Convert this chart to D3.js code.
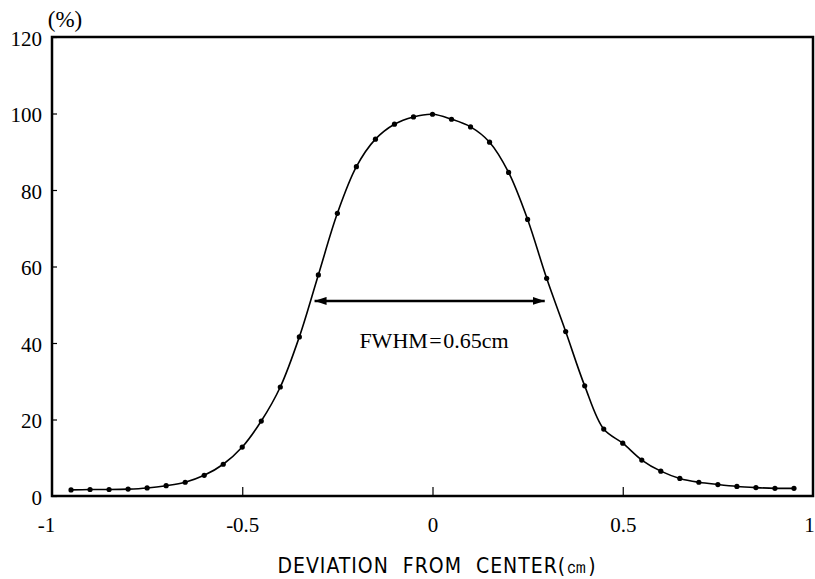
<!DOCTYPE html>
<html>
<head>
<meta charset="utf-8">
<script src="https://cdn.jsdelivr.net/npm/d3@7"></script>
<style>
  body { margin: 0; background: #fff; }
  svg { display: block; }
</style>
</head>
<body>
<div class="container"></div>
<script>
// measured points, deviation (cm) vs relative response (%)
const xValues = [-0.95, -0.9, -0.85, -0.8, -0.75, -0.7, -0.65, -0.6, -0.55, -0.5,
                 -0.45, -0.4, -0.35, -0.3, -0.25, -0.2, -0.15, -0.1, -0.05, 0,
                 0.05, 0.1, 0.15, 0.2, 0.25, 0.3, 0.35, 0.4, 0.45, 0.5,
                 0.55, 0.6, 0.65, 0.7, 0.75, 0.8, 0.85, 0.9, 0.95];
const yValues = [1.6, 1.7, 1.7, 1.8, 2.1, 2.7, 3.6, 5.4, 8.3, 12.8,
                 19.6, 28.5, 41.6, 57.8, 73.9, 86.1, 93.3, 97.2, 99.1, 99.8,
                 98.5, 96.5, 92.5, 84.6, 72.3, 56.9, 43.0, 28.8, 17.5, 13.8,
                 9.4, 6.5, 4.6, 3.6, 3.0, 2.5, 2.2, 2.0, 2.0];
const xTicks = [-1, -0.5, 0, 0.5, 1];
const yTicks = [0, 20, 40, 60, 80, 100, 120];
const arrowX = [-0.31, 0.295];   // FWHM arrow ends
const arrowY = 51;

const dataSet = xValues.map((x, i) => [x, yValues[i]]);

const w = 815;
const h = 579;
const padL = 52, padR = 813, padT = 37, padB = 496;

const xScale = d3.scaleLinear().domain([-1, 1]).range([padL, padR]);
const yScale = d3.scaleLinear().domain([0, 120]).range([padB, padT]);

const svg = d3.select(".container")
  .append("svg")
  .attr("width", w)
  .attr("height", h);

const serif = "'Liberation Serif', 'Times New Roman', serif";

// y axis, ticks pointing inward
const yAxis = d3.axisLeft(yScale)
  .tickValues(yTicks)
  .tickSizeInner(-5)
  .tickSizeOuter(0)
  .tickPadding(10);

svg.append("g")
  .attr("transform", "translate(" + padL + ",0)")
  .call(yAxis)
  .call(g => g.select(".domain").remove())
  .call(g => g.selectAll(".tick line").attr("stroke", "#000").attr("stroke-width", 1.2))
  .call(g => g.selectAll(".tick text")
    .attr("dy", "0.4em")
    .style("font-family", serif)
    .style("font-size", "21px")
    .attr("fill", "#000"));

// x axis
const xAxis = d3.axisBottom(xScale)
  .tickValues(xTicks)
  .tickFormat(d => String(d))
  .tickSizeInner(-9)
  .tickSizeOuter(0)
  .tickPadding(21);

svg.append("g")
  .attr("transform", "translate(0," + padB + ")")
  .call(xAxis)
  .call(g => g.select(".domain").remove())
  .call(g => g.selectAll(".tick line").attr("stroke", "#000").attr("stroke-width", 1.2))
  .call(g => g.selectAll(".tick").filter(d => d === -1 || d === 1).select("line").remove())
  .call(g => g.selectAll(".tick text")
    .style("font-family", serif)
    .style("font-size", "21px")
    .attr("fill", "#000"))
  .call(g => g.selectAll(".tick text").filter(d => d === -1).attr("dx", -6))
  .call(g => g.selectAll(".tick text").filter(d => d === 1).attr("dx", -4));

// frame
svg.append("rect")
  .attr("x", padL)
  .attr("y", padT)
  .attr("width", padR - padL)
  .attr("height", padB - padT)
  .attr("fill", "none")
  .attr("stroke", "#000")
  .attr("stroke-width", 2.5);

// unit label
svg.append("text")
  .attr("x", 65)
  .attr("y", 27)
  .attr("text-anchor", "middle")
  .style("font-family", serif)
  .style("font-size", "23px")
  .text("(%)");

// x axis title
svg.append("text")
  .attr("x", 437)
  .attr("y", 573)
  .attr("text-anchor", "middle")
  .style("font-family", "'DejaVu Sans Condensed', 'DejaVu Sans', sans-serif")
  .style("font-stretch", "condensed")
  .style("font-size", "21px")
  .style("letter-spacing", "1px")
  .style("word-spacing", "7px")
  .text("DEVIATION FROM CENTER(㎝)");

// curve through points
const line = d3.line()
  .x(d => xScale(d[0]))
  .y(d => yScale(d[1]))
  .curve(d3.curveCatmullRom.alpha(0.5));

svg.append("path")
  .datum(dataSet)
  .attr("d", line)
  .attr("fill", "none")
  .attr("stroke", "#000")
  .attr("stroke-width", 1.6);

svg.selectAll("circle")
  .data(dataSet)
  .enter()
  .append("circle")
  .attr("cx", d => xScale(d[0]))
  .attr("cy", d => yScale(d[1]))
  .attr("r", 2.6)
  .attr("fill", "#000");

// FWHM arrow
svg.append("defs").append("marker")
  .attr("id", "head")
  .attr("viewBox", "0 0 12 8")
  .attr("refX", 12)
  .attr("refY", 4)
  .attr("markerWidth", 12)
  .attr("markerHeight", 8)
  .attr("markerUnits", "userSpaceOnUse")
  .attr("orient", "auto-start-reverse")
  .append("path")
  .attr("d", "M0,0 L12,4 L0,8 Z")
  .attr("fill", "#000");

svg.append("line")
  .attr("x1", xScale(arrowX[0]))
  .attr("x2", xScale(arrowX[1]))
  .attr("y1", yScale(arrowY))
  .attr("y2", yScale(arrowY))
  .attr("stroke", "#000")
  .attr("stroke-width", 2.5)
  .attr("marker-start", "url(#head)")
  .attr("marker-end", "url(#head)");

svg.append("text")
  .attr("x", 434)
  .attr("y", 348)
  .attr("text-anchor", "middle")
  .style("font-family", serif)
  .style("font-size", "22px")
  .style("word-spacing", "-4px")
  .text("FWHM = 0.65cm");
</script>
</body>
</html>
